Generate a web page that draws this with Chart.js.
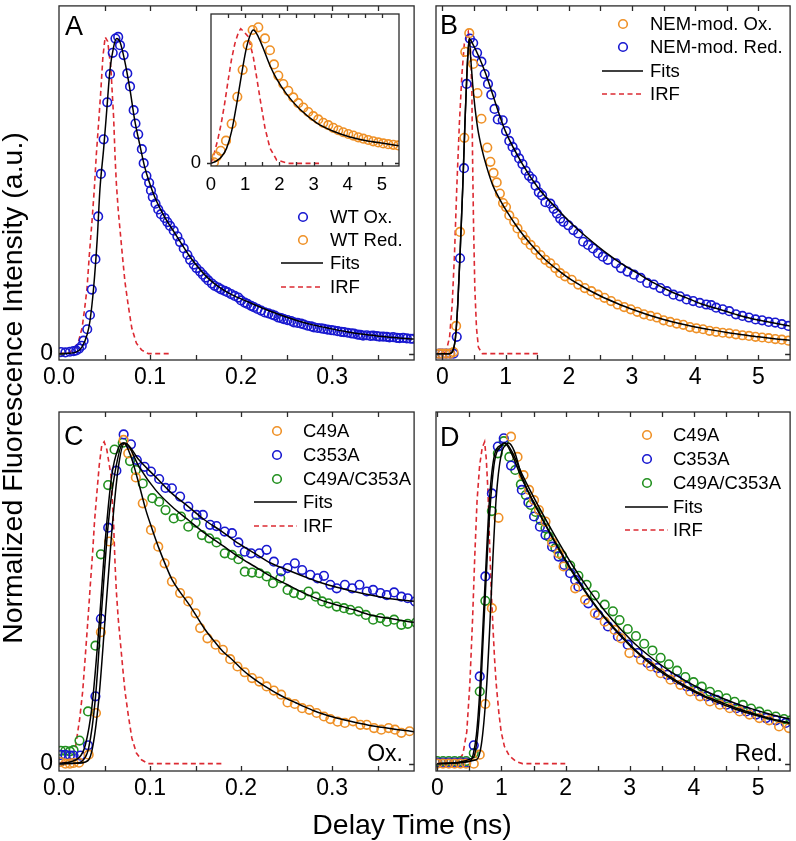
<!DOCTYPE html>
<html><head><meta charset="utf-8">
<script src="https://cdn.jsdelivr.net/npm/chart.js@4/dist/chart.umd.min.js"></script>
<style>
html,body{margin:0;padding:0;background:#fff;}
#wrap{position:relative;width:796px;height:841px;overflow:hidden;background:#fff;font-family:"Liberation Sans",Arial,Helvetica,sans-serif;color:#000;}
canvas{position:absolute;}
.t{position:absolute;white-space:nowrap;line-height:1;}
svg{position:absolute;left:0;top:0;}
</style></head><body><div id="wrap">
<canvas id="cA" width="420" height="400" style="left:0;top:0"></canvas>
<canvas id="cB" width="406" height="400" style="left:390px;top:0"></canvas>
<canvas id="cC" width="420" height="400" style="left:0;top:400px"></canvas>
<canvas id="cD" width="406" height="400" style="left:390px;top:400px"></canvas>
<canvas id="cI" width="225" height="200" style="left:180px;top:0"></canvas>
<svg width="796" height="841" id="lg"></svg>
</div>
<script>
// ---------- DATA (time in ns, normalized intensity) ----------
const tickLabelsFine = [0, 0.1, 0.2, 0.3];
const tickLabelsWide = [0, 1, 2, 3, 4, 5];
const tickLabelsY = [0];

// Panel A
const A_wtOx = [[0.002,0.005],[0.007,0.004],[0.012,0.006],[0.016,0.008],[0.019,0.010],[0.022,0.016],[0.025,0.025],[0.027,0.041],[0.031,0.077],[0.034,0.122],[0.036,0.202],[0.040,0.298],[0.043,0.433],[0.046,0.567],[0.049,0.676],[0.053,0.793],[0.056,0.882],[0.059,0.949],[0.062,0.994],[0.065,0.999],[0.067,0.973],[0.071,0.942],[0.075,0.884],[0.078,0.843],[0.082,0.768],[0.084,0.726],[0.087,0.692],[0.091,0.645],[0.093,0.601],[0.096,0.561],[0.099,0.539],[0.101,0.515],[0.103,0.494],[0.106,0.473],[0.109,0.455],[0.112,0.440],[0.116,0.428],[0.119,0.415],[0.122,0.403],[0.126,0.388],[0.130,0.370],[0.133,0.352],[0.137,0.332],[0.141,0.312],[0.144,0.296],[0.148,0.281],[0.151,0.270],[0.155,0.259],[0.158,0.249],[0.161,0.240],[0.164,0.231],[0.168,0.221],[0.171,0.214],[0.175,0.208],[0.178,0.203],[0.182,0.198],[0.185,0.194],[0.189,0.188],[0.193,0.182],[0.197,0.177],[0.200,0.168],[0.204,0.161],[0.207,0.157],[0.211,0.151],[0.214,0.147],[0.218,0.141],[0.222,0.136],[0.226,0.130],[0.230,0.127],[0.234,0.123],[0.237,0.120],[0.241,0.114],[0.244,0.112],[0.247,0.109],[0.251,0.106],[0.255,0.103],[0.258,0.099],[0.262,0.097],[0.266,0.095],[0.269,0.092],[0.273,0.088],[0.277,0.086],[0.280,0.083],[0.284,0.081],[0.288,0.080],[0.291,0.078],[0.295,0.076],[0.299,0.074],[0.302,0.073],[0.306,0.071],[0.310,0.069],[0.313,0.068],[0.317,0.066],[0.321,0.064],[0.324,0.063],[0.328,0.060],[0.331,0.059],[0.334,0.057],[0.338,0.058],[0.342,0.056],[0.345,0.057],[0.349,0.055],[0.352,0.054],[0.356,0.054],[0.360,0.053],[0.363,0.051],[0.367,0.052],[0.371,0.050],[0.374,0.049],[0.378,0.050],[0.382,0.048],[0.386,0.047],[0.389,0.047]];
const A_fit = [[0,0],[0.010,0.001],[0.018,0.004],[0.025,0.020],[0.031,0.061],[0.034,0.103],[0.038,0.207],[0.042,0.363],[0.045,0.520],[0.049,0.645],[0.0525,0.770],[0.056,0.895],[0.060,0.968],[0.0634,0.994],[0.067,0.983],[0.072,0.926],[0.078,0.832],[0.083,0.739],[0.089,0.655],[0.094,0.590],[0.099,0.542],[0.105,0.495],[0.111,0.458],[0.117,0.426],[0.125,0.390],[0.135,0.345],[0.144,0.305],[0.153,0.272],[0.162,0.243],[0.171,0.220],[0.180,0.202],[0.189,0.187],[0.208,0.163],[0.226,0.141],[0.244,0.121],[0.262,0.104],[0.280,0.090],[0.298,0.079],[0.316,0.069],[0.334,0.061],[0.353,0.055],[0.371,0.050],[0.390,0.046]];
const A_irf = [[0,0],[0.010,0.002],[0.017,0.015],[0.0217,0.041],[0.0254,0.082],[0.0283,0.145],[0.0308,0.207],[0.0333,0.311],[0.0362,0.416],[0.0388,0.520],[0.0409,0.624],[0.0435,0.728],[0.046,0.832],[0.0482,0.936],[0.0507,0.999],[0.0535,0.985],[0.057,0.900],[0.060,0.745],[0.0616,0.620],[0.063,0.537],[0.065,0.454],[0.070,0.298],[0.0725,0.225],[0.076,0.153],[0.080,0.080],[0.085,0.033],[0.0906,0.012],[0.098,0],[0.121,0]];

// Inset of A (WT Red.)
const I_wtRed = [[0.088,0.008],[0.166,0.051],[0.283,0.094],[0.439,0.170],[0.604,0.296],[0.770,0.499],[0.926,0.701],[1.072,0.886],[1.218,1.000],[1.384,1.020],[1.579,0.937],[1.725,0.848],[1.842,0.742],[1.969,0.658],[2.115,0.595],[2.261,0.544],[2.407,0.494],[2.554,0.451],[2.700,0.418],[2.846,0.385],[2.992,0.354],[3.138,0.329],[3.285,0.304],[3.431,0.286],[3.577,0.266],[3.723,0.248],[3.869,0.233],[4.016,0.220],[4.162,0.208],[4.308,0.195],[4.454,0.185],[4.600,0.175],[4.747,0.165],[4.893,0.157],[5.039,0.149],[5.185,0.144],[5.331,0.139],[5.478,0.134]];
const I_fit = [[0,0],[0.166,0.018],[0.312,0.051],[0.458,0.114],[0.604,0.241],[0.750,0.443],[0.897,0.671],[1.043,0.873],[1.189,0.987],[1.238,1.000],[1.384,0.949],[1.530,0.861],[1.725,0.734],[1.920,0.633],[2.212,0.519],[2.602,0.405],[3.090,0.304],[3.577,0.241],[4.064,0.198],[4.552,0.170],[5.039,0.150],[5.500,0.132]];
const I_irf = [[0,0],[0.10,0.08],[0.20,0.18],[0.30,0.30],[0.40,0.45],[0.50,0.62],[0.60,0.78],[0.70,0.90],[0.80,0.98],[0.87,1.01],[0.95,0.99],[1.09,0.95],[1.238,0.797],[1.335,0.646],[1.462,0.443],[1.579,0.266],[1.725,0.114],[1.920,0.025],[2.26,0],[3.187,0]];

// Panel B
const B_nemOx = [[-0.05,0],[0.0,0],[0.06,0],[0.125,0],[0.177,0.005],[0.218,0.0875],[0.280,0.384],[0.348,0.681],[0.363,0.952],[0.426,1.011],[0.488,0.914],[0.556,0.822],[0.618,0.741],[0.711,0.650],[0.760,0.605],[0.810,0.570],[0.860,0.540],[0.910,0.505],[0.960,0.475],[1.007,0.4625],[1.059,0.436],[1.137,0.416],[1.189,0.395],[1.267,0.374],[1.319,0.358],[1.397,0.343],[1.475,0.327],[1.552,0.311],[1.630,0.296],[1.708,0.285],[1.786,0.270],[1.864,0.254],[1.942,0.244],[2.046,0.233],[2.150,0.218],[2.253,0.207],[2.357,0.197],[2.461,0.186],[2.565,0.176],[2.669,0.166],[2.773,0.155],[2.876,0.147],[2.980,0.140],[3.084,0.132],[3.188,0.124],[3.292,0.119],[3.396,0.114],[3.499,0.105],[3.603,0.100],[3.707,0.095],[3.811,0.091],[3.915,0.084],[4.019,0.080],[4.123,0.077],[4.226,0.072],[4.330,0.069],[4.434,0.066],[4.538,0.064],[4.642,0.061],[4.746,0.058],[4.850,0.056],[4.953,0.053],[5.057,0.051],[5.161,0.049],[5.265,0.046],[5.369,0.044],[5.472,0.041]];
const B_nemRed = [[-0.05,0],[0.0,0],[0.06,0],[0.125,0],[0.177,0],[0.228,0.053],[0.280,0.301],[0.343,0.585],[0.384,0.851],[0.436,0.994],[0.488,0.980],[0.550,0.949],[0.618,0.921],[0.670,0.882],[0.722,0.851],[0.774,0.817],[0.826,0.772],[0.877,0.739],[0.955,0.736],[1.007,0.702],[1.059,0.671],[1.111,0.652],[1.163,0.634],[1.215,0.616],[1.267,0.598],[1.319,0.577],[1.371,0.561],[1.423,0.551],[1.475,0.530],[1.526,0.509],[1.578,0.499],[1.630,0.478],[1.708,0.473],[1.760,0.457],[1.812,0.442],[1.864,0.426],[1.916,0.416],[1.994,0.405],[2.072,0.390],[2.150,0.379],[2.227,0.353],[2.305,0.343],[2.383,0.332],[2.461,0.317],[2.539,0.306],[2.617,0.296],[2.747,0.285],[2.825,0.270],[2.928,0.259],[3.032,0.249],[3.136,0.239],[3.240,0.223],[3.344,0.218],[3.448,0.207],[3.551,0.197],[3.655,0.186],[3.759,0.181],[3.863,0.171],[3.967,0.166],[4.071,0.160],[4.174,0.155],[4.252,0.153],[4.330,0.145],[4.434,0.140],[4.538,0.134],[4.642,0.124],[4.746,0.119],[4.850,0.114],[4.953,0.108],[5.057,0.105],[5.161,0.100],[5.265,0.098],[5.369,0.093],[5.472,0.0875]];
const B_fitRed = [[-0.1,0],[0.114,0],[0.166,0.009],[0.208,0.051],[0.244,0.155],[0.280,0.311],[0.322,0.520],[0.358,0.728],[0.389,0.884],[0.426,0.994],[0.478,0.978],[0.580,0.936],[0.685,0.884],[0.789,0.822],[0.893,0.759],[0.997,0.702],[1.267,0.598],[1.526,0.520],[1.786,0.4625],[2.046,0.410],[2.305,0.364],[2.565,0.322],[2.825,0.285],[3.084,0.254],[3.344,0.223],[3.603,0.197],[3.863,0.176],[4.123,0.155],[4.382,0.140],[4.642,0.124],[4.901,0.110],[5.161,0.100],[5.500,0.087]];
const B_fitOx = [[-0.1,0],[0.114,0],[0.166,0.009],[0.208,0.051],[0.244,0.155],[0.280,0.311],[0.322,0.520],[0.358,0.728],[0.389,0.884],[0.426,0.994],[0.450,0.930],[0.480,0.850],[0.520,0.770],[0.560,0.710],[0.620,0.650],[0.700,0.590],[0.800,0.530],[0.900,0.490],[1.000,0.455],[1.200,0.395],[1.400,0.345],[1.600,0.302],[1.800,0.268],[2.000,0.238],[2.250,0.208],[2.500,0.182],[2.750,0.160],[3.000,0.140],[3.250,0.123],[3.500,0.108],[3.750,0.095],[4.000,0.084],[4.250,0.075],[4.500,0.067],[4.750,0.060],[5.000,0.053],[5.250,0.047],[5.500,0.042]];
const B_irf = [[-0.1,0],[0.02,0],[0.062,0.009],[0.114,0.051],[0.156,0.155],[0.192,0.311],[0.228,0.520],[0.270,0.728],[0.311,0.884],[0.348,0.978],[0.410,1.015],[0.445,0.960],[0.467,0.832],[0.478,0.624],[0.493,0.416],[0.514,0.207],[0.540,0.082],[0.571,0.020],[0.633,0],[1.526,0]];

// Panel C (oxidized)
const C_c49a = [[0.002,0.005],[0.007,0.0],[0.012,0.0],[0.016,0.002],[0.022,0.003],[0.0326,0.028],[0.0406,0.158],[0.046,0.410],[0.055,0.693],[0.071,1.010],[0.076,0.968],[0.0844,0.893],[0.092,0.812],[0.101,0.729],[0.109,0.677],[0.116,0.625],[0.124,0.568],[0.133,0.532],[0.142,0.506],[0.150,0.469],[0.155,0.423],[0.163,0.391],[0.172,0.371],[0.180,0.355],[0.188,0.326],[0.196,0.303],[0.204,0.285],[0.212,0.267],[0.220,0.256],[0.228,0.241],[0.236,0.228],[0.244,0.215],[0.251,0.191],[0.259,0.186],[0.267,0.173],[0.275,0.168],[0.283,0.158],[0.291,0.147],[0.298,0.139],[0.306,0.131],[0.314,0.127],[0.323,0.132],[0.331,0.121],[0.338,0.121],[0.346,0.111],[0.354,0.106],[0.362,0.111],[0.369,0.106],[0.376,0.096],[0.385,0.101]];
const C_c353a = [[0.002,0.027],[0.007,0.027],[0.012,0.025],[0.016,0.025],[0.0235,0.025],[0.0319,0.057],[0.040,0.210],[0.046,0.452],[0.054,0.736],[0.063,0.914],[0.071,1.027],[0.079,0.996],[0.0855,0.947],[0.094,0.926],[0.101,0.911],[0.110,0.888],[0.117,0.860],[0.124,0.859],[0.133,0.833],[0.142,0.802],[0.151,0.776],[0.158,0.776],[0.166,0.745],[0.173,0.741],[0.182,0.724],[0.190,0.719],[0.197,0.690],[0.204,0.661],[0.211,0.656],[0.220,0.656],[0.228,0.667],[0.236,0.630],[0.244,0.600],[0.251,0.610],[0.259,0.625],[0.267,0.604],[0.276,0.589],[0.284,0.578],[0.291,0.586],[0.298,0.558],[0.305,0.547],[0.314,0.558],[0.322,0.547],[0.330,0.558],[0.338,0.537],[0.345,0.542],[0.353,0.532],[0.360,0.526],[0.368,0.534],[0.376,0.521],[0.383,0.516],[0.391,0.506]];
const C_double = [[0.002,0.040],[0.007,0.040],[0.012,0.038],[0.016,0.042],[0.0225,0.072],[0.0319,0.163],[0.040,0.368],[0.046,0.653],[0.054,0.869],[0.061,0.980],[0.070,1.001],[0.078,0.944],[0.0844,0.916],[0.092,0.874],[0.1025,0.828],[0.110,0.817],[0.117,0.791],[0.126,0.765],[0.134,0.771],[0.142,0.739],[0.150,0.752],[0.157,0.713],[0.165,0.703],[0.173,0.690],[0.182,0.656],[0.190,0.651],[0.197,0.638],[0.204,0.599],[0.212,0.596],[0.220,0.594],[0.228,0.584],[0.235,0.563],[0.243,0.578],[0.251,0.542],[0.258,0.532],[0.266,0.526],[0.274,0.537],[0.282,0.521],[0.289,0.506],[0.296,0.500],[0.305,0.490],[0.313,0.485],[0.320,0.480],[0.329,0.475],[0.337,0.464],[0.345,0.449],[0.353,0.454],[0.360,0.443],[0.368,0.449],[0.376,0.433],[0.383,0.436],[0.392,0.440]];
const C_fit49 = [[0,0],[0.020,0.001],[0.029,0.005],[0.036,0.038],[0.0435,0.194],[0.0507,0.454],[0.058,0.724],[0.065,0.921],[0.0717,0.999],[0.0736,0.994],[0.080,0.950],[0.088,0.870],[0.0955,0.790],[0.1025,0.730],[0.110,0.670],[0.117,0.620],[0.124,0.575],[0.133,0.535],[0.142,0.500],[0.150,0.465],[0.160,0.420],[0.171,0.380],[0.180,0.350],[0.190,0.325],[0.200,0.297],[0.210,0.273],[0.220,0.253],[0.230,0.235],[0.240,0.218],[0.250,0.203],[0.260,0.190],[0.270,0.177],[0.280,0.165],[0.290,0.155],[0.300,0.146],[0.320,0.132],[0.340,0.120],[0.360,0.111],[0.380,0.103],[0.392,0.099]];
const C_fit353 = [[0,0],[0.020,0.002],[0.025,0.007],[0.0326,0.049],[0.040,0.205],[0.047,0.485],[0.054,0.745],[0.0616,0.910],[0.0707,1.000],[0.0736,0.999],[0.088,0.947],[0.106,0.895],[0.124,0.843],[0.142,0.802],[0.160,0.760],[0.179,0.724],[0.197,0.687],[0.215,0.656],[0.233,0.625],[0.251,0.604],[0.269,0.584],[0.287,0.565],[0.305,0.550],[0.324,0.537],[0.342,0.526],[0.360,0.516],[0.392,0.506]];
const C_fitDbl = [[0,0],[0.0217,0.018],[0.029,0.059],[0.036,0.173],[0.0435,0.412],[0.0507,0.693],[0.058,0.900],[0.065,0.983],[0.0707,1.000],[0.0736,0.999],[0.088,0.926],[0.106,0.854],[0.124,0.802],[0.142,0.760],[0.160,0.719],[0.179,0.682],[0.197,0.646],[0.215,0.615],[0.233,0.584],[0.251,0.558],[0.269,0.532],[0.287,0.511],[0.305,0.495],[0.324,0.480],[0.342,0.464],[0.360,0.454],[0.392,0.440]];
const C_irf = [[0,0],[0.0145,0.018],[0.018,0.049],[0.0228,0.142],[0.026,0.225],[0.029,0.340],[0.0319,0.454],[0.0344,0.558],[0.037,0.661],[0.039,0.755],[0.0417,0.848],[0.0442,0.931],[0.047,0.994],[0.0496,1.004],[0.0525,0.980],[0.057,0.900],[0.060,0.745],[0.0616,0.620],[0.063,0.537],[0.065,0.454],[0.070,0.298],[0.0725,0.225],[0.076,0.153],[0.080,0.080],[0.085,0.033],[0.0906,0.012],[0.098,0],[0.180,0]];

// Panel D (reduced)
const D_c49a = [[0.0,0],[0.09,0],[0.18,0],[0.27,0],[0.36,0],[0.45,0],[0.569,0.0],[0.662,0.028],[0.749,0.186],[0.851,0.485],[0.954,0.767],[1.149,1.020],[1.251,0.957],[1.344,0.900],[1.431,0.854],[1.508,0.822],[1.585,0.791],[1.687,0.755],[1.790,0.690],[1.892,0.656],[1.969,0.615],[2.149,0.547],[2.303,0.511],[2.456,0.469],[2.610,0.443],[2.764,0.417],[2.867,0.391],[2.995,0.345],[3.174,0.324],[3.328,0.303],[3.482,0.282],[3.636,0.262],[3.790,0.246],[3.944,0.225],[4.097,0.210],[4.251,0.194],[4.405,0.184],[4.559,0.173],[4.713,0.163],[4.867,0.153],[5.021,0.142],[5.174,0.135],[5.328,0.116],[5.482,0.111]];
const D_c353a = [[0.0,0.003],[0.09,0.003],[0.18,0.003],[0.27,0.003],[0.36,0.003],[0.45,0.003],[0.569,0.057],[0.662,0.272],[0.749,0.584],[0.851,0.843],[0.944,0.989],[1.036,1.015],[1.150,0.930],[1.318,0.854],[1.420,0.815],[1.508,0.771],[1.600,0.739],[1.687,0.713],[1.790,0.677],[1.892,0.646],[1.979,0.620],[2.072,0.594],[2.149,0.573],[2.200,0.552],[2.354,0.500],[2.508,0.464],[2.662,0.428],[2.815,0.397],[2.969,0.371],[3.123,0.345],[3.277,0.314],[3.431,0.298],[3.585,0.277],[3.738,0.262],[3.892,0.241],[4.046,0.225],[4.200,0.210],[4.354,0.199],[4.508,0.184],[4.662,0.173],[4.815,0.163],[4.969,0.153],[5.123,0.142],[5.277,0.135],[5.431,0.127]];
const D_double = [[0.0,0.008],[0.09,0.008],[0.18,0.008],[0.27,0.008],[0.36,0.008],[0.45,0.008],[0.569,0.033],[0.662,0.225],[0.749,0.508],[0.851,0.788],[0.944,0.968],[1.036,1.006],[1.123,0.957],[1.215,0.916],[1.303,0.871],[1.380,0.838],[1.456,0.807],[1.533,0.785],[1.610,0.760],[1.687,0.734],[1.738,0.708],[1.841,0.672],[1.944,0.650],[2.072,0.618],[2.200,0.586],[2.328,0.558],[2.456,0.525],[2.610,0.496],[2.738,0.475],[2.841,0.448],[2.969,0.420],[3.097,0.398],[3.226,0.374],[3.354,0.353],[3.482,0.330],[3.610,0.310],[3.738,0.290],[3.867,0.270],[3.995,0.254],[4.123,0.240],[4.251,0.224],[4.379,0.214],[4.508,0.204],[4.636,0.193],[4.764,0.183],[4.892,0.172],[5.021,0.162],[5.149,0.153],[5.277,0.147],[5.405,0.139],[5.508,0.135]];
const D_fit353 = [[0,0],[0.508,0.007],[0.559,0.028],[0.610,0.090],[0.662,0.225],[0.713,0.433],[0.764,0.641],[0.815,0.828],[0.892,0.963],[0.995,0.994],[1.050,1.000],[1.150,0.970],[1.328,0.885],[1.585,0.785],[1.841,0.690],[2.097,0.603],[2.354,0.525],[2.610,0.457],[2.867,0.400],[3.123,0.348],[3.379,0.307],[3.636,0.270],[3.892,0.240],[4.149,0.213],[4.405,0.193],[4.662,0.173],[4.918,0.157],[5.174,0.142],[5.500,0.127]];
const D_fitDbl = [[0,0],[0.559,0.018],[0.610,0.059],[0.662,0.173],[0.713,0.381],[0.764,0.589],[0.815,0.776],[0.892,0.942],[0.995,0.990],[1.060,1.000],[1.160,0.975],[1.328,0.900],[1.585,0.800],[1.841,0.708],[2.097,0.622],[2.354,0.545],[2.610,0.477],[2.867,0.418],[3.123,0.366],[3.379,0.324],[3.636,0.287],[3.892,0.256],[4.149,0.229],[4.405,0.207],[4.662,0.187],[4.918,0.170],[5.174,0.155],[5.500,0.139]];
const D_fit49 = [[0,0],[0.610,0.012],[0.687,0.059],[0.764,0.225],[0.815,0.412],[0.867,0.641],[0.918,0.828],[0.995,0.963],[1.072,0.995],[1.110,1.000],[1.200,0.975],[1.328,0.890],[1.585,0.782],[1.841,0.688],[2.097,0.600],[2.354,0.522],[2.610,0.454],[2.867,0.396],[3.123,0.345],[3.379,0.302],[3.636,0.266],[3.892,0.236],[4.149,0.210],[4.405,0.188],[4.662,0.169],[4.918,0.153],[5.174,0.139],[5.500,0.125]];
const D_irf = [[0,0],[0.30,0],[0.40,0.03],[0.46,0.10],[0.508,0.25],[0.550,0.45],[0.585,0.65],[0.620,0.82],[0.660,0.93],[0.700,0.985],[0.738,1.004],[0.764,0.950],[0.790,0.850],[0.815,0.690],[0.841,0.540],[0.867,0.430],[0.892,0.330],[0.918,0.250],[0.959,0.160],[0.995,0.100],[1.046,0.054],[1.123,0.024],[1.226,0.007],[1.328,0],[1.995,0]];

// ---------- STYLE ----------
const FONT = '"Liberation Sans", Arial, Helvetica, sans-serif';
const COL = {blue:'#1818d0', orange:'#ef9127', green:'#22901f', red:'#dc2a32', black:'#000'};

const xy = a => a.map(p => ({x:p[0], y:p[1]}));
const circles = (label, arr, c) => ({label, data:xy(arr), showLine:false, pointStyle:'circle', pointRadius:4.3, pointHoverRadius:4.3, pointBorderWidth:1.6, pointBackgroundColor:'rgba(0,0,0,0)', pointBorderColor:c, borderColor:c, backgroundColor:'rgba(0,0,0,0)'});
const fitLine = (label, arr) => ({label, data:xy(arr), showLine:true, pointRadius:0, borderColor:COL.black, borderWidth:1.5, cubicInterpolationMode:'monotone', fill:false});
const irfLine = arr => ({label:'IRF', data:xy(arr), showLine:true, pointRadius:0, borderColor:COL.red, borderWidth:1.6, borderDash:[5,3.5], fill:false});

const framePlugin = {
  id:'frame',
  afterDatasetsDraw(chart, args, o) {
    const {ctx, chartArea:a, scales:{x, y}} = chart;
    ctx.save();
    ctx.strokeStyle = '#2a2a2a'; ctx.lineWidth = 1.3; ctx.setLineDash([]);
    ctx.strokeRect(a.left, a.top, a.right - a.left, a.bottom - a.top);
    const m = o.minor, L = o.len;
    ctx.beginPath();
    for (let k = Math.ceil(x.min / m - 1e-9); k * m <= x.max + 1e-9; k++) {
      const px = Math.round(x.getPixelForValue(k * m)) + 0.5;
      if (px <= a.left + 1 || px >= a.right - 1) continue;
      ctx.moveTo(px, a.bottom); ctx.lineTo(px, a.bottom - L);
      ctx.moveTo(px, a.top); ctx.lineTo(px, a.top + L);
    }
    const py = Math.round(y.getPixelForValue(0)) + 0.5;
    if (o.outLeft) { ctx.moveTo(a.left - L, py); ctx.lineTo(a.left, py); }
    else { ctx.moveTo(a.left, py); ctx.lineTo(a.left + L, py); }
    ctx.moveTo(a.right, py); ctx.lineTo(a.right - L, py);
    ctx.stroke();
    ctx.restore();
  }
};

function panel(id, o) {
  return new Chart(document.getElementById(id), {
    type:'scatter',
    data:{datasets:o.datasets},
    options:{
      responsive:false, animation:false, devicePixelRatio:1, events:[],
      layout:{padding:o.pad},
      plugins:{legend:{display:false}, tooltip:{enabled:false}, frame:{minor:o.minor, len:o.len || 5, outLeft:!!o.outLeft}},
      scales:{
        x:{type:'linear', min:o.xmin, max:o.xmax,
           grid:{display:false, drawTicks:false}, border:{display:false},
           ticks:{font:{family:FONT, size:o.fs}, color:'#000', padding:o.xpad, maxRotation:0, autoSkip:false, callback:o.xfmt},
           afterBuildTicks:s => { s.ticks = o.xticks.map(v => ({value:v})); },
           afterFit:s => { s.height = o.xh; s.paddingLeft = 0; s.paddingRight = 0; s.paddingTop = 0; s.paddingBottom = 0; }},
        y:{type:'linear', min:o.ymin, max:o.ymax,
           grid:{display:false, drawTicks:false}, border:{display:false},
           ticks:{display:o.yshow, font:{family:FONT, size:o.fs}, color:'#000', padding:o.ypad, callback:v => String(v)},
           afterBuildTicks:s => { s.ticks = tickLabelsY.map(v => ({value:v})); },
           afterFit:s => { s.width = o.yw; s.paddingTop = 0; s.paddingBottom = 0; s.paddingLeft = 0; s.paddingRight = 0; }}
      }
    },
    plugins:[framePlugin]
  });
}

const fmt1 = v => Number(v).toFixed(1);
const fmt0 = v => String(v);

panel('cA', {datasets:[fitLine('Fits', A_fit), circles('WT Ox.', A_wtOx, COL.blue), irfLine(A_irf)],
  pad:{left:0, top:2, right:2, bottom:0}, yw:59, xh:40, xmin:0, xmax:0.39, ymin:-0.02, ymax:1.097,
  xticks:tickLabelsFine, xfmt:fmt1, fs:23, xpad:4, ypad:6, yshow:true, minor:0.05});
panel('cB', {datasets:[fitLine('Fits', B_fitOx), fitLine('Fits', B_fitRed), circles('NEM-mod. Ox.', B_nemOx, COL.orange), circles('NEM-mod. Red.', B_nemRed, COL.blue), irfLine(B_irf)],
  pad:{left:0, top:2, right:1, bottom:0}, yw:46, xh:40, xmin:-0.1, xmax:5.5, ymin:-0.02, ymax:1.097,
  xticks:tickLabelsWide, xfmt:fmt0, fs:23, xpad:4, ypad:6, yshow:false, minor:0.5});
panel('cC', {datasets:[fitLine('Fits', C_fit49), fitLine('Fits', C_fit353), fitLine('Fits', C_fitDbl), circles('C49A', C_c49a, COL.orange), circles('C353A', C_c353a, COL.blue), circles('C49A/C353A', C_double, COL.green), irfLine(C_irf)],
  pad:{left:0, top:12, right:2, bottom:0}, yw:59, xh:29, xmin:0, xmax:0.39, ymin:-0.023, ymax:1.097,
  xticks:tickLabelsFine, xfmt:fmt1, fs:23, xpad:4, ypad:6, yshow:true, minor:0.05});
panel('cD', {datasets:[fitLine('Fits', D_fit49), fitLine('Fits', D_fit353), fitLine('Fits', D_fitDbl), circles('C49A', D_c49a, COL.orange), circles('C353A', D_c353a, COL.blue), circles('C49A/C353A', D_double, COL.green), irfLine(D_irf)],
  pad:{left:0, top:12, right:1, bottom:0}, yw:46, xh:29, xmin:-0.02, xmax:5.5, ymin:-0.023, ymax:1.097,
  xticks:tickLabelsWide, xfmt:fmt0, fs:23, xpad:4, ypad:6, yshow:false, minor:0.5});
panel('cI', {datasets:[fitLine('Fits', I_fit), circles('WT Red.', I_wtRed, COL.orange), irfLine(I_irf)],
  pad:{left:0, top:14, right:6, bottom:0}, yw:31, xh:34, xmin:0, xmax:5.5, ymin:-0.02, ymax:1.12,
  xticks:tickLabelsWide, xfmt:fmt0, fs:18.5, xpad:8, ypad:10, yshow:true, minor:0.5, len:4, outLeft:true});

// ---------- TEXT & LEGENDS ----------
const wrap = document.getElementById('wrap');
function txt(s, x, cy, fs, opt) {
  opt = opt || {};
  const d = document.createElement('div');
  d.className = 't'; d.textContent = s;
  d.style.fontSize = fs + 'px';
  d.style.top = (cy - 0.49 * fs) + 'px';
  if (opt.right) { d.style.right = (796 - x) + 'px'; } else { d.style.left = x + 'px'; }
  wrap.appendChild(d); return d;
}
const svg = document.getElementById('lg');
const NS = 'http://www.w3.org/2000/svg';
function circ(cx, cy, c) { const e = document.createElementNS(NS, 'circle'); e.setAttribute('cx', cx); e.setAttribute('cy', cy); e.setAttribute('r', 4.3); e.setAttribute('fill', 'none'); e.setAttribute('stroke', c); e.setAttribute('stroke-width', 1.6); svg.appendChild(e); }
function line(x1, x2, y, c, dash) { const e = document.createElementNS(NS, 'line'); e.setAttribute('x1', x1); e.setAttribute('x2', x2); e.setAttribute('y1', y); e.setAttribute('y2', y); e.setAttribute('stroke', c); e.setAttribute('stroke-width', 1.6); if (dash) e.setAttribute('stroke-dasharray', '5,3.5'); svg.appendChild(e); }

const LF = 18.5;
// A
circ(303, 217, COL.blue); txt('WT Ox.', 330, 217, LF);
circ(303, 240, COL.orange); txt('WT Red.', 330, 240, LF);
line(281, 323, 263, COL.black); txt('Fits', 330, 263, LF);
line(281, 323, 287, COL.red, true); txt('IRF', 330, 287, LF);
// B
circ(623, 24, COL.orange); txt('NEM-mod. Ox.', 650, 24, LF);
circ(623, 47, COL.blue); txt('NEM-mod. Red.', 650, 47, LF);
line(602, 643, 71, COL.black); txt('Fits', 650, 71, LF);
line(602, 643, 94, COL.red, true); txt('IRF', 650, 94, LF);
// C
circ(277, 431, COL.orange); txt('C49A', 303, 431, LF);
circ(277, 455, COL.blue); txt('C353A', 303, 455, LF);
circ(277, 479, COL.green); txt('C49A/C353A', 303, 479, LF);
line(254, 297, 502, COL.black); txt('Fits', 303, 502, LF);
line(254, 297, 526, COL.red, true); txt('IRF', 303, 526, LF);
// D
circ(647, 435, COL.orange); txt('C49A', 673, 435, LF);
circ(647, 459, COL.blue); txt('C353A', 673, 459, LF);
circ(647, 483, COL.green); txt('C49A/C353A', 673, 483, LF);
line(625, 668, 507, COL.black); txt('Fits', 673, 507, LF);
line(625, 668, 530, COL.red, true); txt('IRF', 673, 530, LF);

// panel letters and condition labels
txt('A', 65, 26.5, 27); txt('B', 440, 25.5, 27); txt('C', 64, 436, 27); txt('D', 440, 437, 27);
txt('Ox.', 403, 753, 23, {right:true}); txt('Red.', 783, 753, 23, {right:true});

// axis titles
const xt = txt('Delay Time (ns)', 412, 824, 28.5); xt.style.transform = 'translateX(-50%)';
const yt = document.createElement('div');
yt.className = 't'; yt.textContent = 'Normalized Fluorescence Intensity (a.u.)';
yt.style.fontSize = '28.5px'; yt.style.left = '12px'; yt.style.top = '388px';
yt.style.transform = 'translate(-50%,-50%) rotate(-90deg)';
wrap.appendChild(yt);
</script>
</body></html>
